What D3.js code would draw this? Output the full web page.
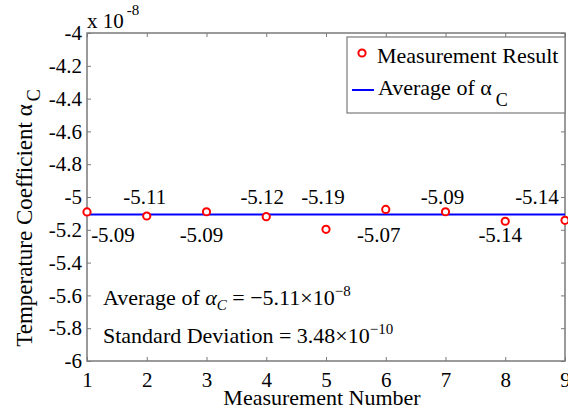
<!DOCTYPE html>
<html>
<head>
<meta charset="utf-8">
<script src="https://cdn.jsdelivr.net/npm/d3@7/dist/d3.min.js"></script>
<style>
  body { margin: 0; background: #fff; }
  svg  { display: block; }
</style>
</head>
<body>
<svg id="chart" width="568" height="412"></svg>
<script>
/* data (units of 1e-8) */
const measNo      = [1, 2, 3, 4, 5, 6, 7, 8, 9];
const alphaC      = [-5.091, -5.116, -5.090, -5.120, -5.197, -5.076, -5.090, -5.148, -5.142];
const alphaLabels = ["-5.09", "-5.11", "-5.09", "-5.12", "-5.19", "-5.07", "-5.09", "-5.14", "-5.14"];
const avgAlpha    = -5.107;
const xTicks      = [1, 2, 3, 4, 5, 6, 7, 8, 9];
const yTicks      = [-6, -5.8, -5.6, -5.4, -5.2, -5, -4.8, -4.6, -4.4, -4.2, -4];

/* label placement (style only) */
const labelSide  = ["below", "above", "below", "above", "above", "below", "above", "below", "above"];
const labelShift = [26, -2, -5, -4, -3, -7, -3, -5, -28];

const svg = d3.select("#chart");
const m = {left: 87, right: 565, top: 33, bottom: 361};
const boxColor = "#7a7a7a";

const x = d3.scaleLinear().domain([1, 9]).range([m.left, m.right]);
const y = d3.scaleLinear().domain([-6, -4]).range([m.bottom, m.top]);
const fmtY = d => String(+d.toFixed(1));

/*── axes: ticks point inward, box drawn separately ──*/
function styleAxis(g){
  g.select(".domain").remove();
  g.selectAll(".tick line").attr("stroke", boxColor);
  g.selectAll(".tick text").attr("fill", "#000").attr("font-size", 21);
}
svg.append("g").attr("transform", `translate(0,${m.bottom})`)
  .call(d3.axisBottom(x).tickValues(xTicks).tickFormat(d3.format("d"))
        .tickSizeInner(-4).tickSizeOuter(0).tickPadding(11))
  .call(styleAxis);
svg.append("g").attr("transform", `translate(0,${m.top})`)
  .call(d3.axisTop(x).tickValues(xTicks).tickFormat("")
        .tickSizeInner(-4).tickSizeOuter(0))
  .call(styleAxis);
svg.append("g").attr("transform", `translate(${m.left},0)`)
  .call(d3.axisLeft(y).tickValues(yTicks).tickFormat(fmtY)
        .tickSizeInner(-4).tickSizeOuter(0).tickPadding(5))
  .call(styleAxis);
svg.append("g").attr("transform", `translate(${m.right},0)`)
  .call(d3.axisRight(y).tickValues(yTicks).tickFormat("")
        .tickSizeInner(-4).tickSizeOuter(0))
  .call(styleAxis);

svg.append("rect")
  .attr("x", m.left).attr("y", m.top)
  .attr("width", m.right - m.left).attr("height", m.bottom - m.top)
  .attr("fill", "none").attr("stroke", boxColor).attr("stroke-width", 1.5);

/* x 10^-8 exponent */
const ex = svg.append("text").attr("x", m.left).attr("y", 28).attr("font-size", 21);
ex.append("tspan").text("x 10");
ex.append("tspan").attr("dy", -13).attr("dx", 3).attr("font-size", 15).text("-8");

/* average line */
svg.append("line")
  .attr("x1", x(1)).attr("x2", x(9))
  .attr("y1", y(avgAlpha)).attr("y2", y(avgAlpha))
  .attr("stroke", "#0000ff").attr("stroke-width", 2);

/* measurement points */
svg.append("g").selectAll("circle")
  .data(measNo).enter().append("circle")
  .attr("cx", d => x(d))
  .attr("cy", (d, i) => y(alphaC[i]))
  .attr("r", 3.6)
  .attr("fill", "#fff").attr("stroke", "#ff0000").attr("stroke-width", 2);

/* value labels */
svg.append("g").selectAll("text")
  .data(measNo).enter().append("text")
  .attr("x", (d, i) => x(d) + labelShift[i])
  .attr("y", (d, i) => y(labelSide[i] === "above" ? -5.04 : -5.275))
  .attr("text-anchor", "middle").attr("font-size", 21)
  .text((d, i) => alphaLabels[i]);

/* legend */
const lg = svg.append("g");
lg.append("rect").attr("x", 347).attr("y", 37).attr("width", 218).attr("height", 76)
  .attr("fill", "#fff").attr("stroke", boxColor).attr("stroke-width", 1.2);
lg.append("circle").attr("cx", 362).attr("cy", 53).attr("r", 3.6)
  .attr("fill", "#fff").attr("stroke", "#ff0000").attr("stroke-width", 2);
lg.append("text").attr("x", 377).attr("y", 63).attr("font-size", 22).text("Measurement Result");
lg.append("line").attr("x1", 352).attr("x2", 374).attr("y1", 90).attr("y2", 90)
  .attr("stroke", "#0000ff").attr("stroke-width", 2);
const lt = lg.append("text").attr("x", 378).attr("y", 95).attr("font-size", 22);
lt.append("tspan").text("Average of α");
lt.append("tspan").attr("dx", 4).attr("dy", 11).attr("font-size", 18).text("C");

/* statistics annotation */
const s1 = svg.append("text").attr("x", 103).attr("y", 305).attr("font-size", 22);
s1.append("tspan").text("Average of ");
s1.append("tspan").attr("font-style", "italic").text("α");
s1.append("tspan").attr("font-style", "italic").attr("font-size", 15).attr("dy", 5).text("C");
s1.append("tspan").attr("dy", -5).text(" = −5.11×10");
s1.append("tspan").attr("font-size", 15).attr("dy", -9).text("−8");

const s2 = svg.append("text").attr("x", 103).attr("y", 343).attr("font-size", 22);
s2.append("tspan").text("Standard Deviation = 3.48×10");
s2.append("tspan").attr("font-size", 15).attr("dy", -9).text("−10");

/* axis titles */
svg.append("text")
  .attr("x", 322).attr("y", 405).attr("text-anchor", "middle").attr("font-size", 22)
  .text("Measurement Number");

const yl = svg.append("text")
  .attr("transform", "translate(32,218) rotate(-90)")
  .attr("text-anchor", "middle").attr("font-size", 23);
yl.append("tspan").text("Temperature Coefficient α");
yl.append("tspan").attr("dx", 3).attr("dy", 8).attr("font-size", 18).text("C");

/* serif face everywhere (inline style, so the axis defaults do not win) */
svg.selectAll("text").style("font-family", "Liberation Serif");
</script>
</body>
</html>
